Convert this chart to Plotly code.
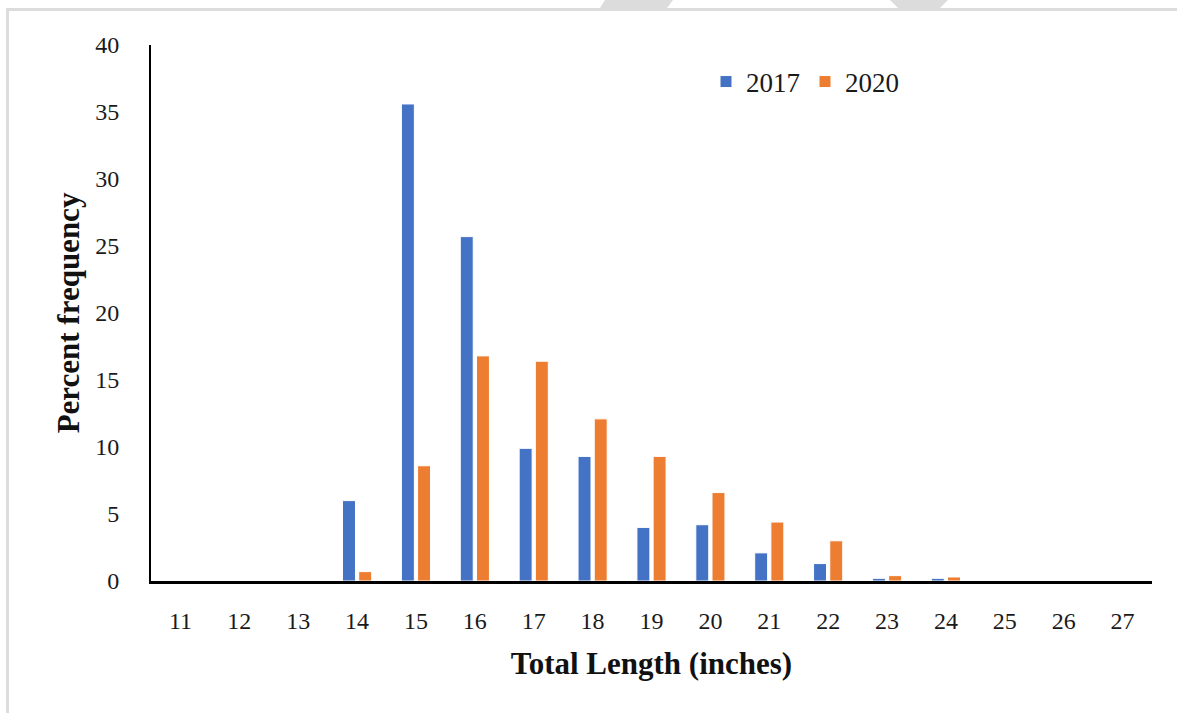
import plotly.graph_objects as go

# Total length classes (inches)
lengths = [str(v) for v in range(11, 28)]

# Percent frequency per length class
pct_2017 = [0, 0, 0, 6.0, 35.6, 25.7, 9.9, 9.3, 4.0, 4.2, 2.1, 1.3, 0.2, 0.2, 0, 0, 0]
pct_2020 = [0, 0, 0, 0.7, 8.6, 16.8, 16.4, 12.1, 9.3, 6.6, 4.4, 3.0, 0.4, 0.3, 0, 0, 0]

series_names = ["2017", "2020"]
series_colors = ["#4472C4", "#ED7D31"]

W, H = 1177, 713
ML, MR, MT, MB = 151, 25, 45, 132
PW, PH = W - ML - MR, H - MT - MB


def px(x):
    return (x - ML) / PW


def py(y):
    return (H - MB - y) / PH


fig = go.Figure()
for name, vals, col in zip(series_names, [pct_2017, pct_2020], series_colors):
    fig.add_trace(go.Bar(
        x=lengths, y=vals, name=name,
        marker=dict(color=col, line=dict(color="white", width=1)),
    ))

serif = "Liberation Serif, Times New Roman, serif"
ink = "#1a1a1a"

# page frame and faint decorations along the top edge
frame = "#DCDCDC"
shapes = [
    dict(type="rect", xref="paper", yref="paper", x0=px(6), x1=px(W), y0=py(8), y1=py(11),
         fillcolor=frame, line=dict(width=0), layer="below"),
    dict(type="rect", xref="paper", yref="paper", x0=px(6), x1=px(9), y0=py(8), y1=py(H),
         fillcolor=frame, line=dict(width=0), layer="below"),
    dict(type="path", xref="paper", yref="paper",
         path=f"M {px(605)} {py(0)} L {px(673)} {py(0)} L {px(667)} {py(8)} L {px(600)} {py(8)} Z",
         fillcolor=frame, line=dict(width=0), layer="below"),
    dict(type="path", xref="paper", yref="paper",
         path=f"M {px(890)} {py(0)} L {px(948)} {py(0)} L {px(940)} {py(8)} L {px(898)} {py(8)} Z",
         fillcolor=frame, line=dict(width=0), layer="below"),
]

fig.update_layout(
    width=W, height=H,
    margin=dict(l=ML, r=MR, t=MT, b=MB),
    paper_bgcolor="white", plot_bgcolor="white",
    barmode="group", bargap=0.45, bargroupgap=0.2,
    font=dict(family=serif, size=24, color=ink),
    shapes=shapes,
    legend=dict(
        orientation="h", x=px(706), y=py(82), xanchor="left", yanchor="middle",
        font=dict(family=serif, size=27, color=ink),
        bgcolor="rgba(0,0,0,0)", itemwidth=30, tracegroupgap=0,
    ),
    xaxis=dict(
        type="category", showline=True, linecolor="black", linewidth=2.5,
        ticks="", showgrid=False, zeroline=False, ticklabelstandoff=16,
        tickfont=dict(family=serif, size=24, color=ink),
        title=dict(text="<b>Total Length (inches)</b>", standoff=20,
                   font=dict(family=serif, size=31, color="#111111")),
    ),
    yaxis=dict(
        range=[0, 40], dtick=5, showline=True, linecolor="black", linewidth=2,
        ticks="", showgrid=False, zeroline=False, ticklabelstandoff=25,
        tickfont=dict(family=serif, size=24, color=ink),
        title=dict(text="<b>Percent frequency</b>", standoff=6,
                   font=dict(family=serif, size=31, color="#111111")),
    ),
)

fig.write_html("out.html")
